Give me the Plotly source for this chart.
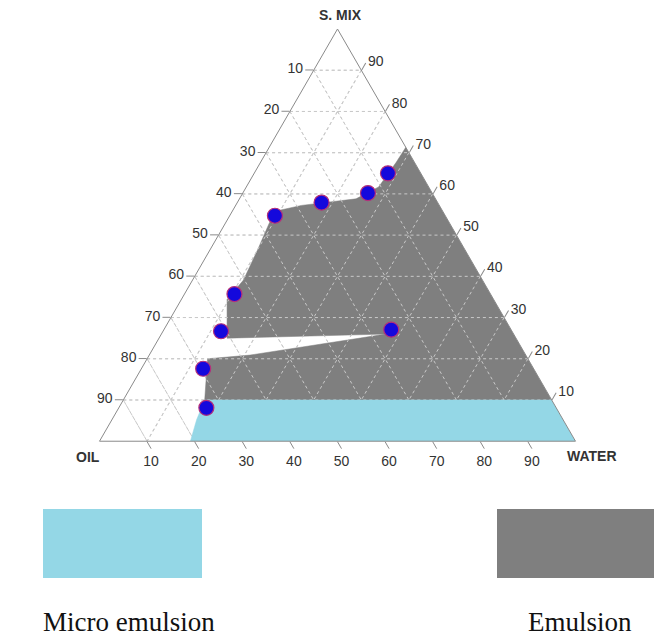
import plotly.graph_objects as go

# ---- data (ternary coordinates, %: S.MIX, OIL, WATER) ----
# formulation points
pt_smix = [65.0, 60.2, 57.9, 54.7, 35.7, 26.7, 27.1, 17.6, 8.1]
pt_oil = [6.9, 13.5, 24.4, 35.8, 53.8, 61.2, 25.2, 69.5, 73.5]
pt_water = [28.1, 26.3, 17.7, 9.5, 10.5, 12.2, 47.8, 13.0, 18.4]

# emulsion region boundary
em_smix = [71.3, 10.0, 10.0, 20.0, 20.9, 26.0, 25.0, 34.4, 39.1, 46.5, 53.0, 55.9, 57.2, 58.8, 61.7, 67.6, 71.3]
em_oil = [0.0, 0.0, 72.9, 67.3, 57.9, 26.8, 60.7, 56.0, 50.2, 43.5, 37.8, 34.7, 29.0, 16.7, 10.5, 3.9, 0.0]
em_water = [28.7, 90.0, 17.1, 12.7, 21.2, 47.2, 14.3, 9.6, 10.7, 10.0, 9.2, 9.4, 13.8, 24.5, 27.8, 28.5, 28.7]

# micro emulsion region boundary
me_smix = [10.0, 10.0, 0.0, 0.0, 5.2, 10.0]
me_oil = [72.9, 0.0, 0.0, 80.9, 77.0, 72.9]
me_water = [17.1, 90.0, 100.0, 19.1, 17.8, 17.1]

tick_vals = [10, 20, 30, 40, 50, 60, 70, 80, 90]
tick_text = [str(100 - v) for v in tick_vals]

axis_titles = ["S. MIX", "OIL", "WATER"]
legend_labels = ["Micro emulsion", "Emulsion"]
CYAN = "#94d7e6"
GRAY = "#7f7f7f"
GRID = "#c9c9c9"

# grid lines drawn over the emulsion fill (built from the tick values)
ga, gb, gc = [], [], []
for v in tick_vals:
    r = 100 - v
    ga += [v, v, None]; gb += [r, 0, None]; gc += [0, r, None]       # const S.MIX
    ga += [r, 0, None]; gb += [v, v, None]; gc += [0, r, None]       # const OIL
    ga += [r, 0, None]; gb += [0, r, None]; gc += [v, v, None]       # const WATER

fig = go.Figure()
fig.add_trace(go.Scatterternary(
    a=em_smix, b=em_oil, c=em_water, mode="lines", fill="toself",
    fillcolor=GRAY, line=dict(color=GRAY, width=0.5), hoverinfo="skip",
    showlegend=False))
fig.add_trace(go.Scatterternary(
    a=ga, b=gb, c=gc, mode="lines", connectgaps=False,
    line=dict(color=GRID, width=1, dash="dot"), hoverinfo="skip",
    showlegend=False))
fig.add_trace(go.Scatterternary(
    a=me_smix, b=me_oil, c=me_water, mode="lines", fill="toself",
    fillcolor=CYAN, line=dict(color=CYAN, width=0.5), hoverinfo="skip",
    showlegend=False))
fig.add_trace(go.Scatterternary(
    a=pt_smix, b=pt_oil, c=pt_water, mode="markers",
    marker=dict(size=15, color="#1408dc", line=dict(color="#b4307a", width=1.2)),
    showlegend=False))

axis_common = dict(
    tickvals=tick_vals, ticktext=tick_text, showgrid=True,
    gridcolor=GRID, griddash="dot", gridwidth=1,
    linecolor="#8a8a8a", linewidth=1, ticks="outside", ticklen=8,
    tickcolor="#8a8a8a", tickfont=dict(family="Liberation Sans", size=14, color="#333333"),
    layer="above traces", min=0, title=dict(text=""),
)

W, H = 661, 639
x0, x1 = 99.5, 575.5
apex_y = 29.0
bot_y = apex_y + (x1 - x0) * 0.8660254

fig.update_layout(
    width=W, height=H, margin=dict(l=0, r=0, t=0, b=0),
    paper_bgcolor="white", plot_bgcolor="white",
    ternary=dict(
        sum=100, bgcolor="white",
        domain=dict(x=[x0 / W, x1 / W], y=[1 - bot_y / H, 1 - apex_y / H]),
        aaxis=axis_common, baxis=axis_common, caxis=axis_common,
    ),
    showlegend=False,
)

title_font = dict(family="Liberation Sans", size=14, color="#333333", weight="bold")
for txt, px, py in zip(axis_titles, [340, 88, 592], [15, 457, 456]):
    fig.add_annotation(text=txt, xref="paper", yref="paper", x=px / W, y=1 - py / H,
                       xanchor="center", yanchor="middle", showarrow=False, font=title_font)

# legend swatches
fig.add_shape(type="rect", xref="paper", yref="paper",
              x0=43 / W, x1=202 / W, y0=1 - 578 / H, y1=1 - 509 / H,
              fillcolor=CYAN, line=dict(width=0))
fig.add_shape(type="rect", xref="paper", yref="paper",
              x0=497 / W, x1=654 / W, y0=1 - 578 / H, y1=1 - 509 / H,
              fillcolor=GRAY, line=dict(width=0))
for txt, px in zip(legend_labels, [128.5, 580]):
    fig.add_annotation(text=txt, xref="paper", yref="paper",
                       x=px / W, y=1 - 622 / H, xanchor="center", yanchor="middle",
                       showarrow=False,
                       font=dict(family="Liberation Serif", size=27, color="#111111"))

fig.write_html("out.html", config={"displayModeBar": False},
               post_script="document.body.style.margin='0';")
